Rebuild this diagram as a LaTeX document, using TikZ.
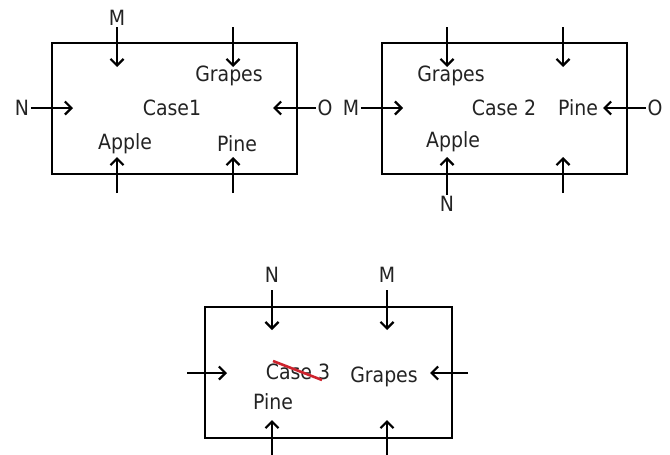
\documentclass[tikz,border=0pt]{standalone}
\usepackage{fontspec}
\setmainfont{DejaVu Sans Condensed}
\usetikzlibrary{arrows.meta}
\definecolor{txt}{RGB}{35,35,35}
\definecolor{strike}{RGB}{205,35,45}
\begin{document}
\begin{tikzpicture}[x=1pt,y=-1pt,
  box/.style={draw,line width=2.5pt,minimum width=245pt,minimum height=131pt,inner sep=0pt},
  arr/.style={line width=2.2pt,-{Straight Barb[length=6.5pt,width=13pt]}},
  lbl/.style={font=\fontsize{21}{23}\selectfont,text=txt,inner sep=1.5pt},
]
\useasboundingbox (0,0) rectangle (670,455);
% ---------- Case 1 ----------
\node[box] (B1) at (174.5,108.5) {};
\node[lbl] (M1) at (117,18) {M};
\node[lbl] (N1) at (22,108) {N};
\node[lbl] (O1) at (325,108) {O};
\node[lbl] (C1) at (172,108) {Case1};
\node[lbl] (G1) at (229,76) {Grapes};
\node[lbl] (A1) at (125,144) {Apple};
\node[lbl] (P1) at (237,144) {Pine};
\coordinate (m1e) at (117,67);
\coordinate (g1s) at (233,27); \coordinate (g1e) at (233,67);
\coordinate (n1e) at (73,108);
\coordinate (o1e) at (273,108);
\coordinate (a1s) at (117,193); \coordinate (a1e) at (117,157);
\coordinate (p1s) at (233,193); \coordinate (p1e) at (233,157);
\draw[arr] (M1) -- (m1e);
\draw[arr] (g1s) -- (g1e);
\draw[arr] (N1) -- (n1e);
\draw[arr] (O1) -- (o1e);
\draw[arr] (a1s) -- (a1e);
\draw[arr] (p1s) -- (p1e);
% ---------- Case 2 ----------
\node[box] (B2) at (504.5,108.5) {};
\node[lbl] (M2) at (351,108) {M};
\node[lbl] (O2) at (655,108) {O};
\node[lbl] (N2) at (447,204) {N};
\node[lbl] (G2) at (451,76) {Grapes};
\node[lbl] (C2) at (504,108) {Case 2};
\node[lbl] (P2) at (578,108) {Pine};
\node[lbl] (A2) at (453,142) {Apple};
\coordinate (t2as) at (447,27); \coordinate (t2ae) at (447,67);
\coordinate (t2bs) at (563,27); \coordinate (t2be) at (563,67);
\coordinate (m2e) at (403,108);
\coordinate (o2e) at (603,108);
\coordinate (n2e) at (447,157);
\coordinate (b2s) at (563,193); \coordinate (b2e) at (563,157);
\draw[arr] (t2as) -- (t2ae);
\draw[arr] (t2bs) -- (t2be);
\draw[arr] (M2) -- (m2e);
\draw[arr] (O2) -- (o2e);
\draw[arr] (N2) -- (n2e);
\draw[arr] (b2s) -- (b2e);
% ---------- Case 3 ----------
\node[box,minimum width=247pt] (B3) at (328.5,372.5) {};
\node[lbl] (N3) at (272,275) {N};
\node[lbl] (M3) at (387,275) {M};
\node[lbl] (C3) at (298,372) {Case 3};
\node[lbl] (G3) at (384,377) {Grapes};
\node[lbl] (P3) at (273,402) {Pine};
\coordinate (n3s) at (272,290); \coordinate (n3e) at (272,330);
\coordinate (m3s) at (387,290); \coordinate (m3e) at (387,330);
\coordinate (l3s) at (187,373); \coordinate (l3e) at (227,373);
\coordinate (r3s) at (468,373); \coordinate (r3e) at (430,373);
\coordinate (b3as) at (272,456); \coordinate (b3ae) at (272,420);
\coordinate (b3bs) at (387,456); \coordinate (b3be) at (387,420);
\coordinate (s3a) at (273,361); \coordinate (s3b) at (322,380);
\draw[arr] (n3s) -- (n3e);
\draw[arr] (m3s) -- (m3e);
\draw[arr] (l3s) -- (l3e);
\draw[arr] (r3s) -- (r3e);
\draw[arr] (b3as) -- (b3ae);
\draw[arr] (b3bs) -- (b3be);
\draw[strike,line width=2.6pt] (s3a) -- (s3b);
\end{tikzpicture}
\end{document}
